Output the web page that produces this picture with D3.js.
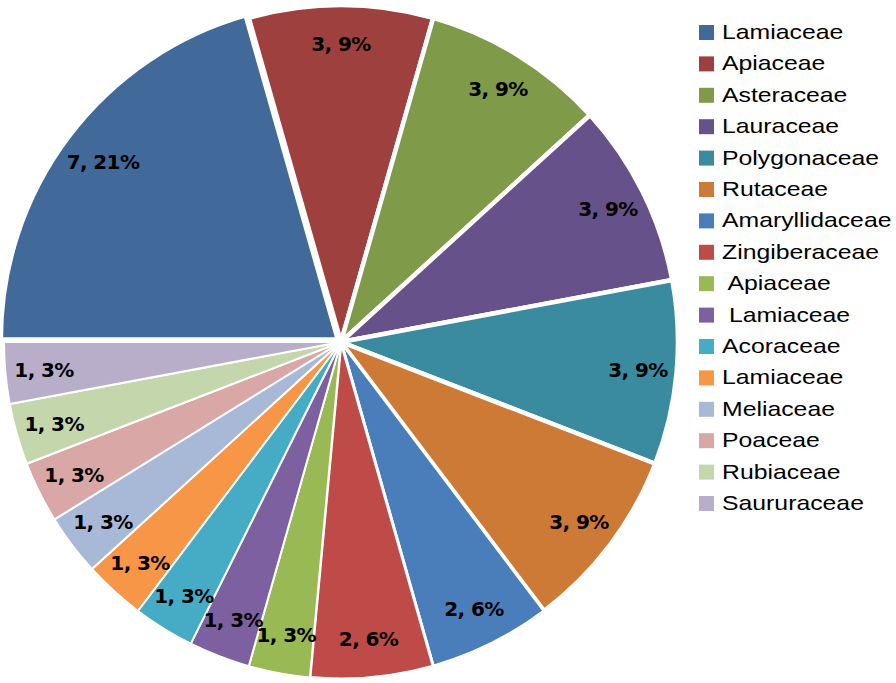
<!DOCTYPE html>
<html>
<head>
<meta charset="utf-8">
<script src="https://cdn.jsdelivr.net/npm/d3@7"></script>
<style>
  body { margin: 0; background: #fff; }
  svg { display: block; }
</style>
</head>
<body>
<svg id="famPie"></svg>
<script>
// families and number of species
const families = ["Lamiaceae", "Apiaceae", "Asteraceae", "Lauraceae", "Polygonaceae", "Rutaceae",
  "Amaryllidaceae", "Zingiberaceae", " Apiaceae", " Lamiaceae", "Acoraceae", "Lamiaceae",
  "Meliaceae", "Poaceae", "Rubiaceae", "Saururaceae"];
const counts = [7, 3, 3, 3, 3, 3, 2, 2, 1, 1, 1, 1, 1, 1, 1, 1];
const sliceColors = ["#41699a", "#9e413e", "#7f9a48", "#67518a", "#3a8ba0", "#ce7a37",
  "#4a7ebb", "#be4b48", "#98b954", "#7d60a0", "#46abc5", "#f79646",
  "#a8b9d8", "#d9a7a6", "#c4d6ab", "#b8aeca"];

const W = 896, H = 683;
const cx = 341, cy = 342, R = 337;

const svg = d3.select("#famPie").attr("width", W).attr("height", H);

const total = d3.sum(counts);
const pie = d3.pie().sort(null).value(d => d)
  .startAngle(-Math.PI / 2).endAngle(1.5 * Math.PI);
const arcs = pie(counts);
const arc = d3.arc().innerRadius(0).outerRadius(R);
const color = d3.scaleOrdinal().domain(d3.range(counts.length)).range(sliceColors);

// stroke gets thicker on the bigger slices, like the original
const strokeW = v => v >= 3 ? 4.5 : (v == 2 ? 3 : 2);

const g = svg.append("g").attr("transform", "translate(" + cx + "," + cy + ")");

g.selectAll("path")
  .data(arcs)
  .join("path")
  .attr("d", arc)
  .attr("fill", (d, i) => color(i))
  .attr("stroke", "#fff")
  .attr("stroke-width", d => strokeW(d.value))
  .attr("stroke-linejoin", "round")
  .attr("transform", (d, i) => {
    // largest slice pulled out a bit
    if (i != 0) return null;
    const a = (d.startAngle + d.endAngle) / 2;
    return "translate(" + (Math.sin(a) * 4) + "," + (-Math.cos(a) * 4) + ")";
  });

const labelR = R * 0.885;
g.selectAll("text")
  .data(arcs)
  .join("text")
  .attr("x", d => Math.sin((d.startAngle + d.endAngle) / 2) * labelR)
  .attr("y", d => -Math.cos((d.startAngle + d.endAngle) / 2) * labelR)
  .attr("text-anchor", "middle")
  .attr("dy", "0.36em")
  .style("font-family", "'DejaVu Sans', sans-serif")
  .style("font-weight", "bold")
  .style("font-size", "20px")
  .style("letter-spacing", "-0.6px")
  .attr("fill", "#000")
  .text(d => d.value + ", " + Math.round(d.value / total * 100) + "%");

// legend
const legend = svg.append("g").attr("transform", "translate(699,25)");
const row = legend.selectAll("g")
  .data(families)
  .join("g")
  .attr("transform", (d, i) => "translate(0," + (i * 31.4) + ")");

row.append("rect")
  .attr("width", 15).attr("height", 15)
  .attr("fill", (d, i) => color(i));

row.append("text")
  .attr("transform", "translate(23,14) scale(1.24,1)")
  .style("font-family", "'Liberation Sans', Arial, sans-serif")
  .style("font-size", "20px")
  .style("white-space", "pre")
  .attr("fill", "#000")
  .text(d => d);
</script>
</body>
</html>
